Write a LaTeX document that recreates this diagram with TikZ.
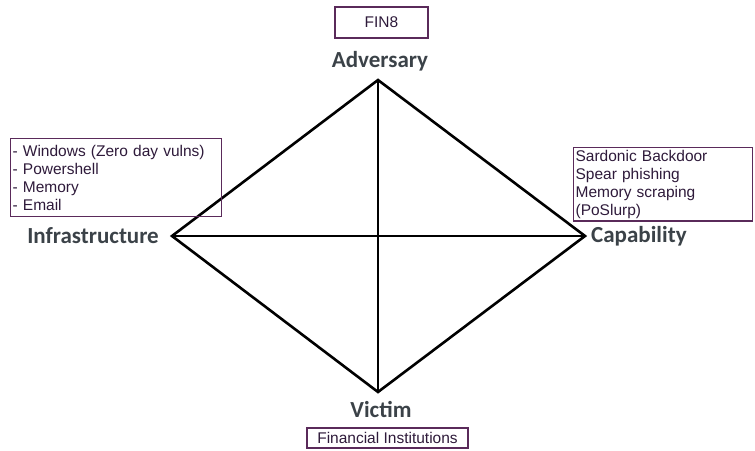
\documentclass[tikz,border=0pt]{standalone}
\usepackage{fontspec}
\setmainfont{Liberation Sans}
\newfontfamily\labelfont{Carlito}
\definecolor{labelgray}{HTML}{3B4248}
\definecolor{boxline}{HTML}{5A2A5A}
\definecolor{boxtext}{HTML}{2E1A3A}
\begin{document}
\begin{tikzpicture}[x=1pt,y=-1pt,
  vlabel/.style={font=\labelfont\bfseries\fontsize{23}{26}\selectfont, text=labelgray, inner sep=0pt},
  boxed/.style={draw=boxline, line width=1.2pt, text=boxtext},
  infobox/.style={boxed, align=left, font=\fontsize{15.5}{18}\selectfont,
    inner xsep=2pt, inner ysep=3.5pt, anchor=north west},
  tagbox/.style={boxed, font=\fontsize{15.5}{17}\selectfont, inner sep=0pt},
  edge/.style={line width=2.6pt, line join=miter}]
\useasboundingbox (0,0) rectangle (755,450);

% diamond corners
\coordinate (adv) at (378,80);
\coordinate (inf) at (172,236);
\coordinate (cap) at (585,236);
\coordinate (vic) at (378,392);

% diamond outline and its two diagonals
\draw[edge] (adv) -- (cap) -- (vic) -- (inf) -- cycle;
\draw[edge] (adv) -- (vic);
\draw[edge] (inf) -- (cap);

% vertex names
\node[vlabel] (advl) at (380,61) {Adversary};
\node[vlabel, anchor=east] (infl) at (159,236) {Infrastructure};
\node[vlabel, anchor=west] (capl) at (591,236) {Capability};
\node[vlabel] (vicl) at (381,409) {Victim};

% annotations
\node[tagbox, minimum width=93pt, minimum height=31pt] (fin) at (381.5,22.5) {FIN8};
\node[infobox, text width=207pt, minimum height=78pt] (infbox) at (10,138)
  {- Windows (Zero day vulns)\\- Powershell\\- Memory\\- Email};
\node[infobox, text width=175pt, minimum height=72pt, inner ysep=2.5pt] (capbox) at (573,147)
  {Sardonic Backdoor\\Spear phishing\\Memory scraping\\(PoSlurp)};
\node[tagbox, minimum width=161pt, minimum height=20pt] (vicbox) at (387.5,438) {Financial Institutions};
\end{tikzpicture}
\end{document}
